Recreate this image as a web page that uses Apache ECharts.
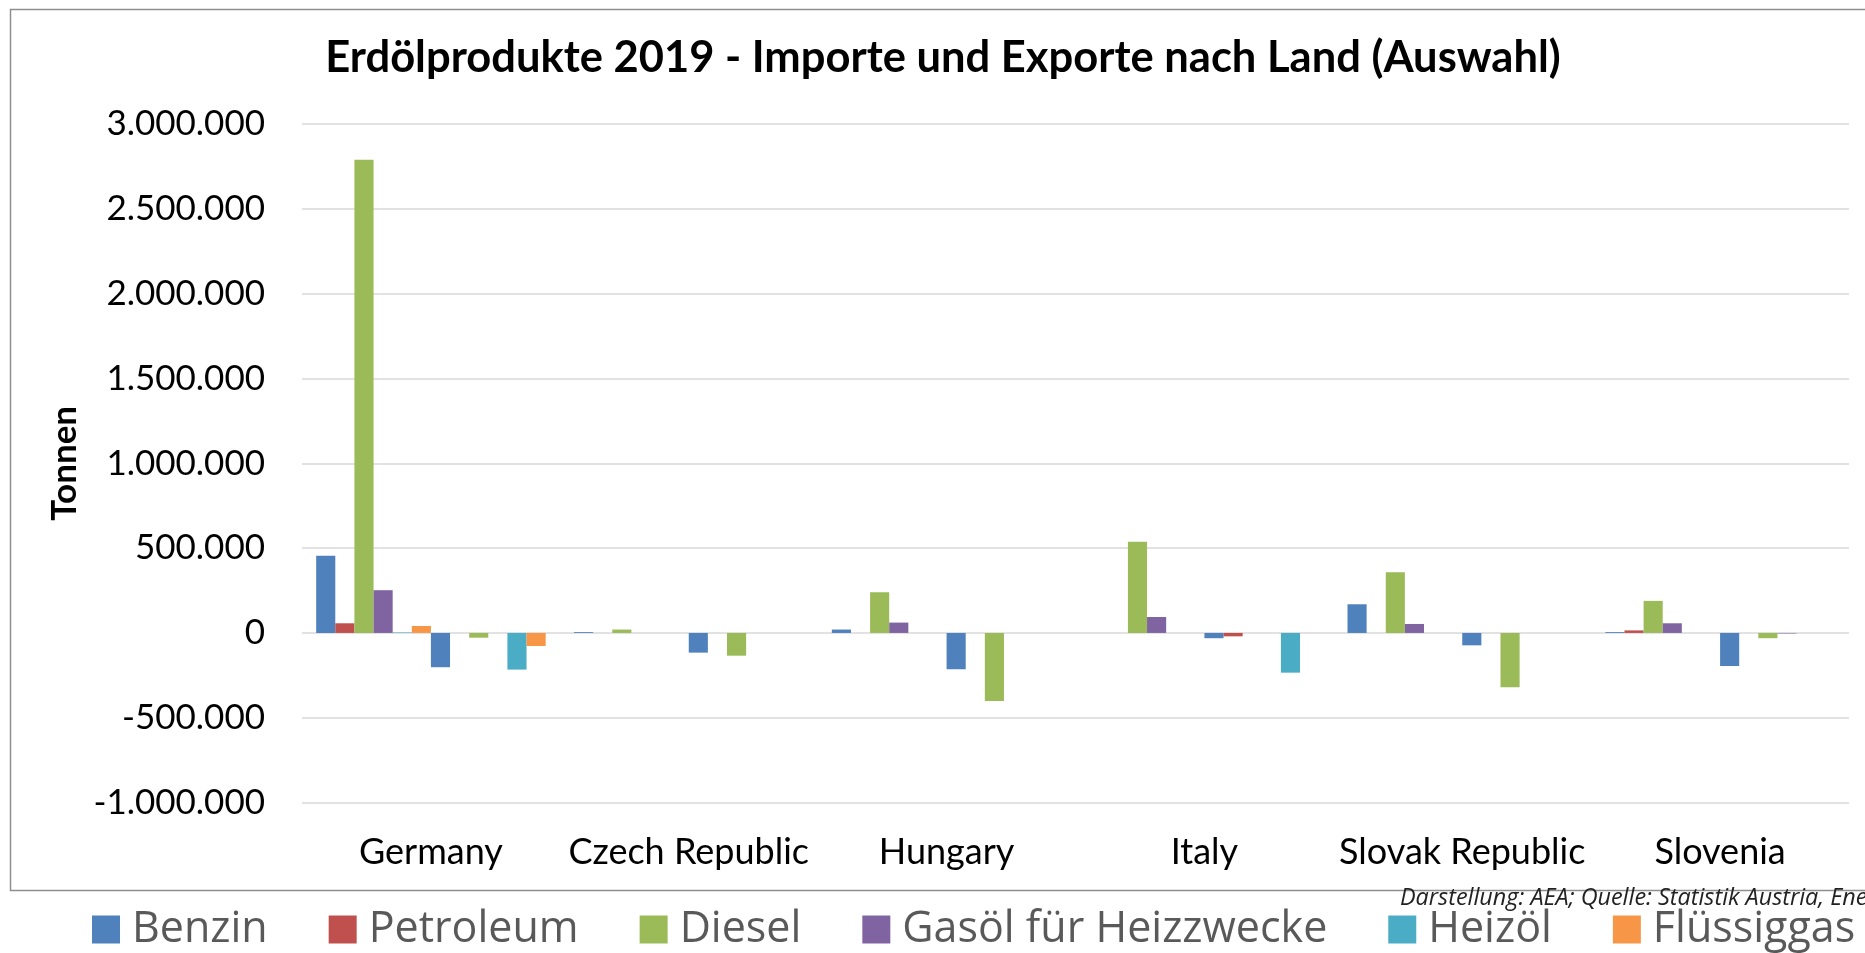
<!DOCTYPE html>
<html>
<head>
<meta charset="utf-8">
<script src="https://cdn.jsdelivr.net/npm/echarts@6/dist/echarts.min.js"></script>
<style>
  html, body { margin: 0; padding: 0; background: #fff; }
  #chart { width: 1865px; height: 953px; }
</style>
</head>
<body>
<div id="chart"></div>
<script>
// countries (x axis)
var countries = ['Germany', 'Czech Republic', 'Hungary', 'Italy', 'Slovak Republic', 'Slovenia'];
var products = ['Benzin', 'Petroleum', 'Diesel', 'Gasöl für Heizzwecke', 'Heizöl', 'Flüssiggas'];
var colors = ['#4F81BD', '#C0504D', '#9BBB59', '#8064A2', '#4BACC6', '#F79646'];

// imports in Tonnen (positive)
var benzinImport = [455000, 5000, 20000, 0, 169000, 5000];
var petroleumImport = [57000, 0, 0, 0, 0, 15000];
var dieselImport = [2790000, 20000, 240000, 538000, 358000, 189000];
var gasoelImport = [252000, 0, 61000, 94000, 53000, 57000];
var heizoelImport = [3000, 0, 0, 0, 0, 0];
var fluessiggasImport = [41000, 0, 0, 0, 0, 0];

// exports in Tonnen (negative)
var benzinExport = [-202000, -116000, -214000, -31000, -73000, -195000];
var petroleumExport = [0, 0, 0, -20000, 0, 0];
var dieselExport = [-28000, -134000, -401000, 0, -320000, -31000];
var gasoelExport = [0, 0, 0, 0, 0, -3000];
var heizoelExport = [-216000, 0, 0, -234000, 0, 0];
var fluessiggasExport = [-77000, 0, 0, 0, 0, 0];

var yTicks = { min: -1000000, max: 3000000, interval: 500000 };

var imports = [benzinImport, petroleumImport, dieselImport, gasoelImport, heizoelImport, fluessiggasImport];
var exports = [benzinExport, petroleumExport, dieselExport, gasoelExport, heizoelExport, fluessiggasExport];

function fmt(v) {
    var s = String(Math.abs(v)).replace(/\B(?=(\d{3})+(?!\d))/g, '.');
    return (v < 0 ? '-' : '') + s;
}

function makeSeries(name, data, color) {
    return {
        name: name,
        type: 'bar',
        data: data,
        barGap: 0,
        barCategoryGap: '11%',
        itemStyle: { color: color },
        emphasis: { disabled: true }
    };
}

var series = [];
imports.forEach(function (d, i) { series.push(makeSeries(products[i], d, colors[i])); });
exports.forEach(function (d, i) { series.push(makeSeries(products[i], d, colors[i])); });

var chart = echarts.init(document.getElementById('chart'));

var option = {
    animation: false,
    backgroundColor: '#fff',
    color: colors,
    grid: { left: 302, right: 16, top: 124, bottom: 150.4, containLabel: false },
    legend: {
        data: products,
        left: 87,
        top: 903,
        width: 1900,
        icon: 'rect',
        itemWidth: 28,
        itemHeight: 28,
        itemGap: 61,
        textStyle: {
            fontFamily: 'Open Sans',
            fontSize: 43,
            color: '#595959',
            padding: [0, 0, 0, 7]
        }
    },
    xAxis: {
        type: 'category',
        data: countries,
        axisLine: { show: false, onZero: false },
        axisTick: { show: false },
        axisLabel: {
            interval: 0,
            margin: 32,
            fontFamily: 'Lato',
            fontSize: 36,
            color: '#000'
        }
    },
    yAxis: {
        type: 'value',
        min: yTicks.min,
        max: yTicks.max,
        interval: yTicks.interval,
        name: 'Tonnen',
        nameLocation: 'middle',
        nameRotate: 90,
        nameGap: 235,
        nameTextStyle: {
            fontFamily: 'Lato',
            fontWeight: 'bold',
            fontSize: 35,
            color: '#000',
            verticalAlign: 'middle'
        },
        axisLine: { show: false },
        axisTick: { show: false },
        axisLabel: {
            margin: 37,
            fontFamily: 'Lato',
            fontSize: 35,
            color: '#000',
            formatter: fmt
        },
        splitLine: { lineStyle: { color: '#d9d9d9', width: 1.5 } }
    },
    graphic: [
        {
            type: 'rect',
            silent: true,
            z: -10,
            shape: { x: 10.5, y: 9.5, width: 1900, height: 881 },
            style: { fill: 'none', stroke: '#8f8f8f', lineWidth: 1.5 }
        },
        {
            type: 'text',
            silent: true,
            x: 943,
            y: 58,
            style: {
                text: 'Erdölprodukte 2019 - Importe und Exporte nach Land (Auswahl)',
                fontFamily: 'Lato',
                fontWeight: 'bold',
                fontSize: 43.5,
                fill: '#000',
                textAlign: 'center',
                textVerticalAlign: 'middle'
            }
        },
        {
            type: 'text',
            silent: true,
            x: 1400,
            y: 898,
            style: {
                text: 'Darstellung: AEA; Quelle: Statistik Austria, Ene',
                fontFamily: 'Open Sans',
                fontStyle: 'italic',
                fontSize: 23.4,
                fill: '#222',
                textAlign: 'left',
                textVerticalAlign: 'middle'
            }
        }
    ],
    series: series
};

chart.setOption(option);
</script>
</body>
</html>
